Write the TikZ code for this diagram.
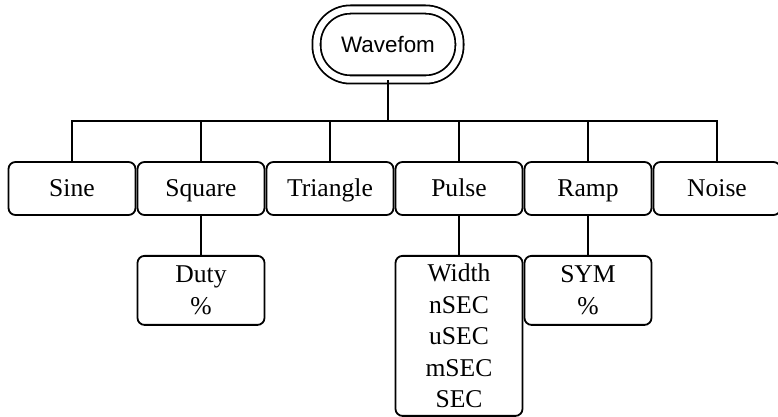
\documentclass[tikz,border=0pt]{standalone}
\usepackage{fontspec}
\setmainfont{Liberation Serif}
\newfontfamily\wavefont{Liberation Sans}
\usepackage{tikz}
\begin{document}
\begin{tikzpicture}[
  x=0.5pt, y=-0.5pt,
  line width=0.9pt,
  every node/.style={inner sep=1pt},
  root/.style={rectangle, draw, double, double distance=3.2pt,
    rounded corners=17pt, minimum width=71.5pt, minimum height=35pt,
    font=\wavefont\fontsize{11.2}{13}\selectfont},
  box/.style={rectangle, draw, rounded corners=3.5pt,
    minimum width=63.5pt, font=\fontsize{12.8}{15.8}\selectfont},
  wf/.style={box, minimum height=26.5pt, text height=10.5pt, text depth=2pt},
  opt/.style={box, anchor=north, align=center},
]
\useasboundingbox (0,0) rectangle (778,417);

%% ---- root ----
\node[root] (wave) at (388,44.5) {Wavefom};
\coordinate (bus) at (388,121);

%% ---- waveforms ----
\node[wf] (sine)     at (72,188.5)  {Sine};
\node[wf] (square)   at (201,188.5) {Square};
\node[wf] (triangle) at (330,188.5) {Triangle};
\node[wf] (pulse)    at (459,188.5) {Pulse};
\node[wf] (ramp)     at (588,188.5) {Ramp};
\node[wf] (noise)    at (717,188.5) {Noise};

\draw (wave.south) -- (bus);
\foreach \w in {sine,square,triangle,pulse,ramp,noise}
  \draw (\w.north) |- (bus);

%% ---- parameters ----
\node[opt, minimum height=34.5pt] (duty) at (201,255) {Duty\\\%};
\node[opt, minimum height=80pt] (width) at (459,255)
  {Width\\nSEC\\uSEC\\mSEC\\SEC};
\node[opt, minimum height=34.5pt] (sym) at (588,255) {SYM\\\%};

\draw (square.south) -- (duty.north);
\draw (pulse.south) -- (width.north);
\draw (ramp.south) -- (sym.north);
\end{tikzpicture}
\end{document}
